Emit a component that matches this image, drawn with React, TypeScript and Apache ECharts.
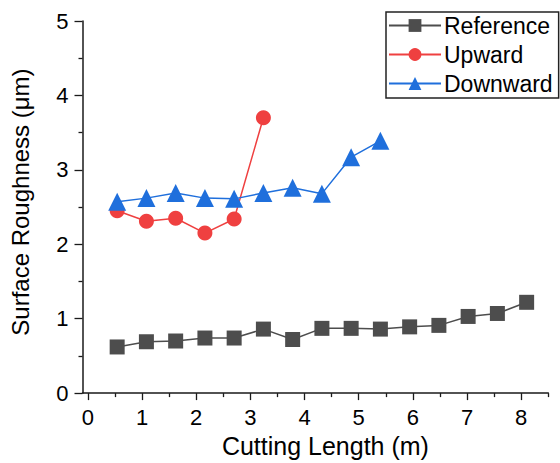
import React, { useEffect, useRef } from "react";
import * as echarts from "echarts";

const refX = [0.54, 1.08, 1.62, 2.16, 2.7, 3.24, 3.78, 4.32, 4.86, 5.4, 5.94, 6.48, 7.02, 7.56, 8.1];
const refY = [0.62, 0.69, 0.7, 0.74, 0.74, 0.86, 0.72, 0.87, 0.87, 0.86, 0.89, 0.91, 1.03, 1.07, 1.22];
const upX = [0.54, 1.08, 1.62, 2.16, 2.7, 3.24];
const upY = [2.45, 2.31, 2.35, 2.15, 2.34, 3.7];
const downX = [0.54, 1.08, 1.62, 2.16, 2.7, 3.24, 3.78, 4.32, 4.86, 5.4];
const downY = [2.57, 2.62, 2.69, 2.62, 2.61, 2.69, 2.76, 2.68, 3.17, 3.39];
const xMajor = [0, 1, 2, 3, 4, 5, 6, 7, 8];
const xMinor = [0.5, 1.5, 2.5, 3.5, 4.5, 5.5, 6.5, 7.5, 8.5];

const FONT = "Liberation Sans, Arial, sans-serif";
const AX = "#1a1a1a";

export default function App() {
  const ref = useRef<HTMLDivElement>(null);
  useEffect(() => {
    const chart = echarts.init(ref.current!, null, { renderer: "svg" });
    const zip = (xs: number[], ys: number[]) => xs.map((x, i) => [x, ys[i]]);
    chart.setOption({
      animation: false,
      textStyle: { fontFamily: FONT },
      grid: { left: 82.5, right: 11.7, top: 21, bottom: 67.3, containLabel: false },
      legend: {
        orient: "vertical",
        left: 386,
        top: 12,
        width: 172,
        itemWidth: 52,
        itemHeight: 16,
        itemGap: 6,
        padding: [2, 6, 3, 2],
        borderColor: "#222",
        borderWidth: 1.5,
        textStyle: { fontSize: 23, color: "#000", fontFamily: FONT, padding: [0, 0, 0, -2] },
        data: ["Reference", "Upward", "Downward"],
      },
      xAxis: [
        {
          type: "value",
          min: -0.1,
          max: 8.5,
          splitLine: { show: false },
          axisLine: { show: true, onZero: false, lineStyle: { color: AX, width: 1.5 } },
          axisTick: { show: true, length: 7, customValues: xMajor, lineStyle: { color: AX, width: 1.3 } },
          axisLabel: { customValues: xMajor, fontSize: 22, color: "#000", margin: 13, fontFamily: FONT },
          name: "Cutting Length (m)",
          nameLocation: "middle",
          nameGap: 39,
          nameTextStyle: { fontSize: 25, color: "#000", fontFamily: FONT, padding: [0, 0, 0, 20] },
        },
        {
          type: "value",
          min: -0.1,
          max: 8.5,
          position: "bottom",
          splitLine: { show: false },
          axisLine: { show: false },
          axisTick: { show: true, length: 4, customValues: xMinor, lineStyle: { color: AX, width: 1.3 } },
          axisLabel: { show: false },
        },
      ],
      yAxis: {
        type: "value",
        min: 0,
        max: 5,
        interval: 1,
        splitLine: { show: false },
        axisLine: { show: true, onZero: false, lineStyle: { color: AX, width: 1.5 } },
        axisTick: { show: true, length: 8, lineStyle: { color: AX, width: 1.3 } },
        minorTick: { show: true, splitNumber: 2, length: 4, lineStyle: { color: AX, width: 1.3 } },
        axisLabel: { fontSize: 22, color: "#000", margin: 14, fontFamily: FONT },
        name: "Surface Roughness (\u03bcm)",
        nameLocation: "middle",
        nameGap: 50,
        nameTextStyle: { fontSize: 24, color: "#000", fontFamily: FONT, padding: [0, 0, 0, 10] },
      },
      series: [
        {
          name: "Reference",
          type: "line",
          data: zip(refX, refY),
          symbol: "rect",
          symbolSize: 15,
          color: "#4d4d4d",
          lineStyle: { color: "#4d4d4d", width: 1.5 },
          itemStyle: { color: "#4d4d4d" },
        },
        {
          name: "Upward",
          type: "line",
          data: zip(upX, upY),
          symbol: "circle",
          symbolSize: 15,
          color: "#ef4040",
          lineStyle: { color: "#ef4040", width: 1.5 },
          itemStyle: { color: "#ef4040" },
        },
        {
          name: "Downward",
          type: "line",
          data: zip(downX, downY),
          symbol: "triangle",
          symbolSize: 18,
          color: "#1f6fdc",
          lineStyle: { color: "#1f6fdc", width: 1.5 },
          itemStyle: { color: "#1f6fdc" },
        },
      ],
    });
    return () => chart.dispose();
  }, []);
  return <div ref={ref} style={{ width: 560, height: 463, position: "absolute", left: 0, top: 0 }} />;
}
